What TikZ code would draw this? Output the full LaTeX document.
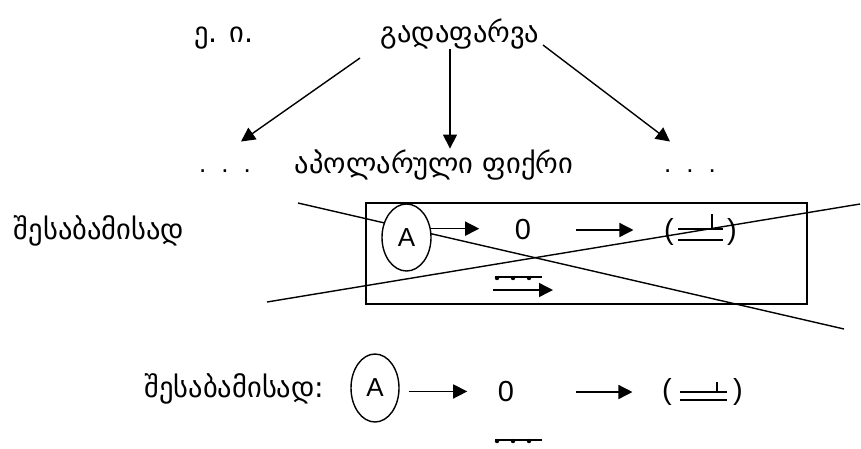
\documentclass[tikz,border=0pt]{standalone}
\usepackage{fontspec}
\setmainfont{Liberation Sans}
\newfontfamily\geofont{DejaVu Sans}
\usetikzlibrary{arrows.meta, calc, positioning, shapes.geometric}
\tikzset{
    word/.style={
           inner sep=0pt,
           anchor=base,
           font=\geosize,
           },
    atom/.style={
           ellipse,
           draw=black,
           fill=white,
           minimum width=49pt,
           minimum height=67pt,
           inner sep=0pt,
           font=\latinsize,
           },
    sym/.style={inner sep=0pt, font=\digitsize},
    link/.style={-{Triangle[length=14pt,width=14pt]}},
}
\newcommand{\geosize}{\geofont\fontsize{28.5}{33}\selectfont}
\newcommand{\latinsize}{\fontsize{26}{30}\selectfont}
\newcommand{\digitsize}{\fontsize{29}{33}\selectfont}
\newcommand{\geo}[1]{{\geofont #1}}
\newcommand{\WdEi}          {\geo{ე. ი.}}
\newcommand{\WdGadafarva}   {\geo{გადაფარვა}}
\newcommand{\WdApolar}      {\geo{აპოლარული ფიქრი}}
\newcommand{\WdShesabamisad}{\geo{შესაბამისად}}
\newcommand{\Ellip}{.\hspace{15pt}.\hspace{15pt}.}

\begin{document}
\begin{tikzpicture}[x=1pt, y=-1pt, line width=1.4pt]
      \useasboundingbox (0,0) rectangle (861,448);
      % top row
      \node[word]              (EI) at (224, 42) {\WdEi};
      \node[word]              (G)  at (460, 42) {\WdGadafarva};
      \node[word, font=\latinsize] (L)  at (225,172) {\Ellip};
      \node[word]              (P)  at (434,173) {\WdApolar};
      \node[word, font=\latinsize] (R)  at (690,172) {\Ellip};
      \draw[link] ($(G.base west)+(-20,16)$) -- ($(L.north)+(16,-27)$);
      \draw[link] ($(G.south)+(-10,0)$)      -- ($(P.north)+(16,0)$);
      \draw[link] ($(G.base east)+(3,3)$)    -- ($(R.north)+(-20,-27)$);
      % crossed-out box
      \node[draw, minimum width=441pt, minimum height=101pt, inner sep=0pt] (F) at (586.5,253.5) {};
      \coordinate (X1) at (298,203);
      \coordinate (X2) at (844,329);
      \coordinate (X3) at (267,302);
      \coordinate (X4) at (860,204);
      \draw (X1) -- (X2);
      \draw (X3) -- (X4);
      \node[word]              (S1)  at (99,239) {\WdShesabamisad};
      \node[atom]              (A1)  at (406.5,237.5) {A};
      \node[sym]               (Z1)  at (523,230) {0};
      \node[sym]               (LP1) at (669,232) {(};
      \node[sym]               (RP1) at (732,232) {)};
      \draw[link, shorten >=35pt] (A1.20) -- (A1.20 -| Z1.west);
      \draw[link, shorten <=44pt, shorten >=30pt] (Z1.east) -- (Z1.east -| LP1.west);
      \draw ($(LP1)+(9,-3)$) -- ++(45,0) ($(LP1)+(9,8)$) -- ++(45,0) ($(LP1)+(43,-3)$) -- ++(0,-15);
      \draw (495,277) -- (542,277);
      \fill (497,278) circle (2.2) (513,278) circle (2.2) (529,278) circle (2.2);
      \coordinate (B1) at (493,290);
      \coordinate (B2) at (553,290);
      \draw[link] (B1) -- (B2);
      % bottom row
      \node[word]              (S2)  at (234.5,397) {\WdShesabamisad:};
      \node[atom, minimum width=48pt, minimum height=68pt] (A2) at (375,388) {A};
      \node[sym]               (Z2)  at (506,392) {0};
      \node[sym]               (LP2) at (667,392) {(};
      \node[sym]               (RP2) at (738,392) {)};
      \draw[link, shorten <=9pt, shorten >=30pt] (A2.-8) -- (A2.-8 -| Z2.west);
      \draw[link, shorten <=61pt, shorten >=29pt] (Z2.east) -- (Z2.east -| LP2.west);
      \draw ($(LP2)+(13,0)$) -- ++(47,0) ($(LP2)+(13,8)$) -- ++(47,0) ($(LP2)+(50,0)$) -- ++(0,-10);
      \draw (495,440) -- (542,440);
      \fill (497,441) circle (2.2) (513,441) circle (2.2) (529,441) circle (2.2);
\end{tikzpicture}
\end{document}
